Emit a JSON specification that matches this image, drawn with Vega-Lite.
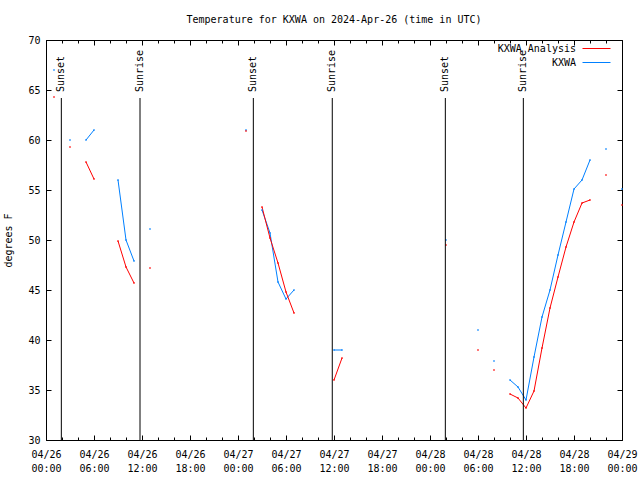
{
  "$schema": "https://vega.github.io/schema/vega-lite/v6.json",
  "width": 576,
  "height": 400,
  "autosize": "none",
  "padding": {"left": 46, "top": 40, "right": 18, "bottom": 40},
  "background": "white",
  "title": {"text": "Temperature for KXWA on 2024-Apr-26 (time in UTC)", "font": "DejaVu Sans Mono", "fontSize": 10, "fontWeight": "normal", "color": "black", "anchor": "middle", "frame": "group", "offset": 10},
  "config": {
    "view": {"stroke": "black", "strokeWidth": 1},
    "axis": {"grid": false, "domainColor": "black", "tickColor": "black", "labelColor": "black", "titleColor": "black", "labelFont": "DejaVu Sans Mono", "labelFontSize": 10, "titleFont": "DejaVu Sans Mono", "titleFontSize": 10, "titleFontWeight": "normal", "domain": false},
    "legend": {"labelFont": "DejaVu Sans Mono", "labelFontSize": 10, "labelColor": "black"}
  },
  "datasets": {
    "obs": [
      {"t": "2024-04-26T01:00:00Z", "s": "KXWA", "v": 67.0},
      {"t": "2024-04-26T02:00:00Z", "s": "KXWA", "v": null},
      {"t": "2024-04-26T03:00:00Z", "s": "KXWA", "v": 60.0},
      {"t": "2024-04-26T04:00:00Z", "s": "KXWA", "v": null},
      {"t": "2024-04-26T05:00:00Z", "s": "KXWA", "v": 60.0},
      {"t": "2024-04-26T06:00:00Z", "s": "KXWA", "v": 61.0},
      {"t": "2024-04-26T07:00:00Z", "s": "KXWA", "v": null},
      {"t": "2024-04-26T09:00:00Z", "s": "KXWA", "v": 56.0},
      {"t": "2024-04-26T10:00:00Z", "s": "KXWA", "v": 50.0},
      {"t": "2024-04-26T11:00:00Z", "s": "KXWA", "v": 47.9},
      {"t": "2024-04-26T12:00:00Z", "s": "KXWA", "v": null},
      {"t": "2024-04-26T13:00:00Z", "s": "KXWA", "v": 51.1},
      {"t": "2024-04-26T14:00:00Z", "s": "KXWA", "v": null},
      {"t": "2024-04-27T01:00:00Z", "s": "KXWA", "v": 61.0},
      {"t": "2024-04-27T02:00:00Z", "s": "KXWA", "v": null},
      {"t": "2024-04-27T03:00:00Z", "s": "KXWA", "v": 53.0},
      {"t": "2024-04-27T04:00:00Z", "s": "KXWA", "v": 50.7},
      {"t": "2024-04-27T05:00:00Z", "s": "KXWA", "v": 45.8},
      {"t": "2024-04-27T06:00:00Z", "s": "KXWA", "v": 44.1},
      {"t": "2024-04-27T07:00:00Z", "s": "KXWA", "v": 45.0},
      {"t": "2024-04-27T08:00:00Z", "s": "KXWA", "v": null},
      {"t": "2024-04-27T12:00:00Z", "s": "KXWA", "v": 39.0},
      {"t": "2024-04-27T13:00:00Z", "s": "KXWA", "v": 39.0},
      {"t": "2024-04-27T14:00:00Z", "s": "KXWA", "v": null},
      {"t": "2024-04-28T02:00:00Z", "s": "KXWA", "v": 50.0},
      {"t": "2024-04-28T03:00:00Z", "s": "KXWA", "v": null},
      {"t": "2024-04-28T06:00:00Z", "s": "KXWA", "v": 41.0},
      {"t": "2024-04-28T07:00:00Z", "s": "KXWA", "v": null},
      {"t": "2024-04-28T08:00:00Z", "s": "KXWA", "v": 37.9},
      {"t": "2024-04-28T09:00:00Z", "s": "KXWA", "v": null},
      {"t": "2024-04-28T10:00:00Z", "s": "KXWA", "v": 36.0},
      {"t": "2024-04-28T11:00:00Z", "s": "KXWA", "v": 35.3},
      {"t": "2024-04-28T12:00:00Z", "s": "KXWA", "v": 34.0},
      {"t": "2024-04-28T13:00:00Z", "s": "KXWA", "v": 38.3},
      {"t": "2024-04-28T14:00:00Z", "s": "KXWA", "v": 42.3},
      {"t": "2024-04-28T15:00:00Z", "s": "KXWA", "v": 45.0},
      {"t": "2024-04-28T16:00:00Z", "s": "KXWA", "v": 48.5},
      {"t": "2024-04-28T17:00:00Z", "s": "KXWA", "v": 51.8},
      {"t": "2024-04-28T18:00:00Z", "s": "KXWA", "v": 55.1},
      {"t": "2024-04-28T19:00:00Z", "s": "KXWA", "v": 56.0},
      {"t": "2024-04-28T20:00:00Z", "s": "KXWA", "v": 58.0},
      {"t": "2024-04-28T21:00:00Z", "s": "KXWA", "v": null},
      {"t": "2024-04-28T22:00:00Z", "s": "KXWA", "v": 59.1},
      {"t": "2024-04-28T23:00:00Z", "s": "KXWA", "v": null},
      {"t": "2024-04-29T00:00:00Z", "s": "KXWA", "v": 55.1},
      {"t": "2024-04-26T01:00:00Z", "s": "KXWA Analysis", "v": 64.3},
      {"t": "2024-04-26T02:00:00Z", "s": "KXWA Analysis", "v": null},
      {"t": "2024-04-26T03:00:00Z", "s": "KXWA Analysis", "v": 59.3},
      {"t": "2024-04-26T04:00:00Z", "s": "KXWA Analysis", "v": null},
      {"t": "2024-04-26T05:00:00Z", "s": "KXWA Analysis", "v": 57.8},
      {"t": "2024-04-26T06:00:00Z", "s": "KXWA Analysis", "v": 56.1},
      {"t": "2024-04-26T07:00:00Z", "s": "KXWA Analysis", "v": null},
      {"t": "2024-04-26T09:00:00Z", "s": "KXWA Analysis", "v": 49.9},
      {"t": "2024-04-26T10:00:00Z", "s": "KXWA Analysis", "v": 47.3},
      {"t": "2024-04-26T11:00:00Z", "s": "KXWA Analysis", "v": 45.7},
      {"t": "2024-04-26T12:00:00Z", "s": "KXWA Analysis", "v": null},
      {"t": "2024-04-26T13:00:00Z", "s": "KXWA Analysis", "v": 47.2},
      {"t": "2024-04-26T14:00:00Z", "s": "KXWA Analysis", "v": null},
      {"t": "2024-04-27T01:00:00Z", "s": "KXWA Analysis", "v": 60.9},
      {"t": "2024-04-27T02:00:00Z", "s": "KXWA Analysis", "v": null},
      {"t": "2024-04-27T03:00:00Z", "s": "KXWA Analysis", "v": 53.3},
      {"t": "2024-04-27T04:00:00Z", "s": "KXWA Analysis", "v": 50.2},
      {"t": "2024-04-27T05:00:00Z", "s": "KXWA Analysis", "v": 47.7},
      {"t": "2024-04-27T06:00:00Z", "s": "KXWA Analysis", "v": 44.8},
      {"t": "2024-04-27T07:00:00Z", "s": "KXWA Analysis", "v": 42.7},
      {"t": "2024-04-27T08:00:00Z", "s": "KXWA Analysis", "v": null},
      {"t": "2024-04-27T12:00:00Z", "s": "KXWA Analysis", "v": 36.0},
      {"t": "2024-04-27T13:00:00Z", "s": "KXWA Analysis", "v": 38.2},
      {"t": "2024-04-27T14:00:00Z", "s": "KXWA Analysis", "v": null},
      {"t": "2024-04-28T02:00:00Z", "s": "KXWA Analysis", "v": 49.5},
      {"t": "2024-04-28T03:00:00Z", "s": "KXWA Analysis", "v": null},
      {"t": "2024-04-28T06:00:00Z", "s": "KXWA Analysis", "v": 39.0},
      {"t": "2024-04-28T07:00:00Z", "s": "KXWA Analysis", "v": null},
      {"t": "2024-04-28T08:00:00Z", "s": "KXWA Analysis", "v": 37.0},
      {"t": "2024-04-28T09:00:00Z", "s": "KXWA Analysis", "v": null},
      {"t": "2024-04-28T10:00:00Z", "s": "KXWA Analysis", "v": 34.6},
      {"t": "2024-04-28T11:00:00Z", "s": "KXWA Analysis", "v": 34.2},
      {"t": "2024-04-28T12:00:00Z", "s": "KXWA Analysis", "v": 33.2},
      {"t": "2024-04-28T13:00:00Z", "s": "KXWA Analysis", "v": 34.9},
      {"t": "2024-04-28T14:00:00Z", "s": "KXWA Analysis", "v": 39.2},
      {"t": "2024-04-28T15:00:00Z", "s": "KXWA Analysis", "v": 43.2},
      {"t": "2024-04-28T16:00:00Z", "s": "KXWA Analysis", "v": 46.3},
      {"t": "2024-04-28T17:00:00Z", "s": "KXWA Analysis", "v": 49.3},
      {"t": "2024-04-28T18:00:00Z", "s": "KXWA Analysis", "v": 51.8},
      {"t": "2024-04-28T19:00:00Z", "s": "KXWA Analysis", "v": 53.7},
      {"t": "2024-04-28T20:00:00Z", "s": "KXWA Analysis", "v": 54.0},
      {"t": "2024-04-28T21:00:00Z", "s": "KXWA Analysis", "v": null},
      {"t": "2024-04-28T22:00:00Z", "s": "KXWA Analysis", "v": 56.5},
      {"t": "2024-04-28T23:00:00Z", "s": "KXWA Analysis", "v": null},
      {"t": "2024-04-29T00:00:00Z", "s": "KXWA Analysis", "v": 53.5}
    ],
    "sun": [
      {"t": "2024-04-26T01:55:00Z", "e": "Sunset"},
      {"t": "2024-04-26T11:45:00Z", "e": "Sunrise"},
      {"t": "2024-04-27T01:55:00Z", "e": "Sunset"},
      {"t": "2024-04-27T11:47:00Z", "e": "Sunrise"},
      {"t": "2024-04-28T01:55:00Z", "e": "Sunset"},
      {"t": "2024-04-28T11:40:00Z", "e": "Sunrise"}
    ]
  },
  "layer": [
    {
      "data": {"name": "obs"},
      "mark": {"type": "line", "strokeWidth": 1, "interpolate": "linear"},
      "encoding": {
        "x": {"field": "t", "type": "temporal", "scale": {"type": "utc", "domain": ["2024-04-26T00:00:00Z", "2024-04-29T00:00:00Z"], "nice": false},
              "axis": {"orient": "bottom", "title": null, "tickSize": -5, "labelPadding": 14, "labelLineHeight": 14, "labelOverlap": false, "labelFlush": false, "labelAlign": "center",
                       "values": [
                         {"year": 2024, "month": 4, "date": 26, "hours": 0, "utc": true},
                         {"year": 2024, "month": 4, "date": 26, "hours": 6, "utc": true},
                         {"year": 2024, "month": 4, "date": 26, "hours": 12, "utc": true},
                         {"year": 2024, "month": 4, "date": 26, "hours": 18, "utc": true},
                         {"year": 2024, "month": 4, "date": 27, "hours": 0, "utc": true},
                         {"year": 2024, "month": 4, "date": 27, "hours": 6, "utc": true},
                         {"year": 2024, "month": 4, "date": 27, "hours": 12, "utc": true},
                         {"year": 2024, "month": 4, "date": 27, "hours": 18, "utc": true},
                         {"year": 2024, "month": 4, "date": 28, "hours": 0, "utc": true},
                         {"year": 2024, "month": 4, "date": 28, "hours": 6, "utc": true},
                         {"year": 2024, "month": 4, "date": 28, "hours": 12, "utc": true},
                         {"year": 2024, "month": 4, "date": 28, "hours": 18, "utc": true},
                         {"year": 2024, "month": 4, "date": 29, "hours": 0, "utc": true}
                       ],
                       "labelExpr": "[utcFormat(datum.value, '%m/%d'), utcFormat(datum.value, '%H:%M')]"}},
        "y": {"field": "v", "type": "quantitative", "scale": {"domain": [30, 70], "nice": false, "zero": false},
              "axis": {"orient": "left", "title": "degrees F", "tickSize": -5, "labelPadding": 11, "values": [30, 35, 40, 45, 50, 55, 60, 65, 70], "titlePadding": 14}},
        "color": {"field": "s", "type": "nominal", "scale": {"domain": ["KXWA Analysis", "KXWA"], "range": ["#ff0000", "#0080ff"]},
                  "legend": {"title": null, "orient": "none", "legendX": 543, "legendY": 1, "symbolType": "M-2,0H2", "symbolSize": 196, "symbolStrokeWidth": 1, "labelAlign": "right", "labelOffset": -28, "rowPadding": 1, "padding": 0}}
      }
    },
    {
      "data": {"name": "obs"},
      "transform": [{"filter": "isValid(datum.v)"}],
      "mark": {"type": "square", "size": 2, "filled": true, "opacity": 1},
      "encoding": {
        "x": {"field": "t", "type": "temporal", "scale": {"type": "utc", "domain": ["2024-04-26T00:00:00Z", "2024-04-29T00:00:00Z"], "nice": false},
              "axis": {"orient": "bottom", "labels": false, "title": null, "tickSize": -3,
                       "values": [
                         {"year": 2024, "month": 4, "date": 26, "hours": 0, "utc": true},
                         {"year": 2024, "month": 4, "date": 26, "hours": 2, "utc": true},
                         {"year": 2024, "month": 4, "date": 26, "hours": 4, "utc": true},
                         {"year": 2024, "month": 4, "date": 26, "hours": 6, "utc": true},
                         {"year": 2024, "month": 4, "date": 26, "hours": 8, "utc": true},
                         {"year": 2024, "month": 4, "date": 26, "hours": 10, "utc": true},
                         {"year": 2024, "month": 4, "date": 26, "hours": 12, "utc": true},
                         {"year": 2024, "month": 4, "date": 26, "hours": 14, "utc": true},
                         {"year": 2024, "month": 4, "date": 26, "hours": 16, "utc": true},
                         {"year": 2024, "month": 4, "date": 26, "hours": 18, "utc": true},
                         {"year": 2024, "month": 4, "date": 26, "hours": 20, "utc": true},
                         {"year": 2024, "month": 4, "date": 26, "hours": 22, "utc": true},
                         {"year": 2024, "month": 4, "date": 27, "hours": 0, "utc": true},
                         {"year": 2024, "month": 4, "date": 27, "hours": 2, "utc": true},
                         {"year": 2024, "month": 4, "date": 27, "hours": 4, "utc": true},
                         {"year": 2024, "month": 4, "date": 27, "hours": 6, "utc": true},
                         {"year": 2024, "month": 4, "date": 27, "hours": 8, "utc": true},
                         {"year": 2024, "month": 4, "date": 27, "hours": 10, "utc": true},
                         {"year": 2024, "month": 4, "date": 27, "hours": 12, "utc": true},
                         {"year": 2024, "month": 4, "date": 27, "hours": 14, "utc": true},
                         {"year": 2024, "month": 4, "date": 27, "hours": 16, "utc": true},
                         {"year": 2024, "month": 4, "date": 27, "hours": 18, "utc": true},
                         {"year": 2024, "month": 4, "date": 27, "hours": 20, "utc": true},
                         {"year": 2024, "month": 4, "date": 27, "hours": 22, "utc": true},
                         {"year": 2024, "month": 4, "date": 28, "hours": 0, "utc": true},
                         {"year": 2024, "month": 4, "date": 28, "hours": 2, "utc": true},
                         {"year": 2024, "month": 4, "date": 28, "hours": 4, "utc": true},
                         {"year": 2024, "month": 4, "date": 28, "hours": 6, "utc": true},
                         {"year": 2024, "month": 4, "date": 28, "hours": 8, "utc": true},
                         {"year": 2024, "month": 4, "date": 28, "hours": 10, "utc": true},
                         {"year": 2024, "month": 4, "date": 28, "hours": 12, "utc": true},
                         {"year": 2024, "month": 4, "date": 28, "hours": 14, "utc": true},
                         {"year": 2024, "month": 4, "date": 28, "hours": 16, "utc": true},
                         {"year": 2024, "month": 4, "date": 28, "hours": 18, "utc": true},
                         {"year": 2024, "month": 4, "date": 28, "hours": 20, "utc": true},
                         {"year": 2024, "month": 4, "date": 28, "hours": 22, "utc": true},
                         {"year": 2024, "month": 4, "date": 29, "hours": 0, "utc": true}
                       ]}},
        "y": {"field": "v", "type": "quantitative", "scale": {"domain": [30, 70], "nice": false, "zero": false},
              "axis": {"orient": "right", "labels": false, "title": null, "tickSize": -5, "values": [30, 35, 40, 45, 50, 55, 60, 65, 70]}},
        "color": {"field": "s", "type": "nominal", "legend": null}
      }
    },
    {
      "data": {"name": "sun"},
      "mark": {"type": "rule", "color": "black", "strokeWidth": 1},
      "encoding": {
        "x": {"field": "t", "type": "temporal", "scale": {"type": "utc", "domain": ["2024-04-26T00:00:00Z", "2024-04-29T00:00:00Z"], "nice": false},
              "axis": {"orient": "top", "labels": false, "title": null, "tickSize": -5,
                       "values": [
                         {"year": 2024, "month": 4, "date": 26, "hours": 0, "utc": true},
                         {"year": 2024, "month": 4, "date": 26, "hours": 6, "utc": true},
                         {"year": 2024, "month": 4, "date": 26, "hours": 12, "utc": true},
                         {"year": 2024, "month": 4, "date": 26, "hours": 18, "utc": true},
                         {"year": 2024, "month": 4, "date": 27, "hours": 0, "utc": true},
                         {"year": 2024, "month": 4, "date": 27, "hours": 6, "utc": true},
                         {"year": 2024, "month": 4, "date": 27, "hours": 12, "utc": true},
                         {"year": 2024, "month": 4, "date": 27, "hours": 18, "utc": true},
                         {"year": 2024, "month": 4, "date": 28, "hours": 0, "utc": true},
                         {"year": 2024, "month": 4, "date": 28, "hours": 6, "utc": true},
                         {"year": 2024, "month": 4, "date": 28, "hours": 12, "utc": true},
                         {"year": 2024, "month": 4, "date": 28, "hours": 18, "utc": true},
                         {"year": 2024, "month": 4, "date": 29, "hours": 0, "utc": true}
                       ]}},
        "y": {"datum": 30, "type": "quantitative", "scale": {"domain": [30, 70], "nice": false, "zero": false}, "axis": null},
        "y2": {"datum": 64.2}
      }
    },
    {
      "data": {"name": "sun"},
      "mark": {"type": "text", "angle": 270, "align": "left", "baseline": "middle", "font": "DejaVu Sans Mono", "fontSize": 10, "color": "black"},
      "encoding": {
        "x": {"field": "t", "type": "temporal", "scale": {"type": "utc", "domain": ["2024-04-26T00:00:00Z", "2024-04-29T00:00:00Z"], "nice": false},
              "axis": {"orient": "top", "labels": false, "title": null, "tickSize": -3,
                       "values": [
                         {"year": 2024, "month": 4, "date": 26, "hours": 0, "utc": true},
                         {"year": 2024, "month": 4, "date": 26, "hours": 2, "utc": true},
                         {"year": 2024, "month": 4, "date": 26, "hours": 4, "utc": true},
                         {"year": 2024, "month": 4, "date": 26, "hours": 6, "utc": true},
                         {"year": 2024, "month": 4, "date": 26, "hours": 8, "utc": true},
                         {"year": 2024, "month": 4, "date": 26, "hours": 10, "utc": true},
                         {"year": 2024, "month": 4, "date": 26, "hours": 12, "utc": true},
                         {"year": 2024, "month": 4, "date": 26, "hours": 14, "utc": true},
                         {"year": 2024, "month": 4, "date": 26, "hours": 16, "utc": true},
                         {"year": 2024, "month": 4, "date": 26, "hours": 18, "utc": true},
                         {"year": 2024, "month": 4, "date": 26, "hours": 20, "utc": true},
                         {"year": 2024, "month": 4, "date": 26, "hours": 22, "utc": true},
                         {"year": 2024, "month": 4, "date": 27, "hours": 0, "utc": true},
                         {"year": 2024, "month": 4, "date": 27, "hours": 2, "utc": true},
                         {"year": 2024, "month": 4, "date": 27, "hours": 4, "utc": true},
                         {"year": 2024, "month": 4, "date": 27, "hours": 6, "utc": true},
                         {"year": 2024, "month": 4, "date": 27, "hours": 8, "utc": true},
                         {"year": 2024, "month": 4, "date": 27, "hours": 10, "utc": true},
                         {"year": 2024, "month": 4, "date": 27, "hours": 12, "utc": true},
                         {"year": 2024, "month": 4, "date": 27, "hours": 14, "utc": true},
                         {"year": 2024, "month": 4, "date": 27, "hours": 16, "utc": true},
                         {"year": 2024, "month": 4, "date": 27, "hours": 18, "utc": true},
                         {"year": 2024, "month": 4, "date": 27, "hours": 20, "utc": true},
                         {"year": 2024, "month": 4, "date": 27, "hours": 22, "utc": true},
                         {"year": 2024, "month": 4, "date": 28, "hours": 0, "utc": true},
                         {"year": 2024, "month": 4, "date": 28, "hours": 2, "utc": true},
                         {"year": 2024, "month": 4, "date": 28, "hours": 4, "utc": true},
                         {"year": 2024, "month": 4, "date": 28, "hours": 6, "utc": true},
                         {"year": 2024, "month": 4, "date": 28, "hours": 8, "utc": true},
                         {"year": 2024, "month": 4, "date": 28, "hours": 10, "utc": true},
                         {"year": 2024, "month": 4, "date": 28, "hours": 12, "utc": true},
                         {"year": 2024, "month": 4, "date": 28, "hours": 14, "utc": true},
                         {"year": 2024, "month": 4, "date": 28, "hours": 16, "utc": true},
                         {"year": 2024, "month": 4, "date": 28, "hours": 18, "utc": true},
                         {"year": 2024, "month": 4, "date": 28, "hours": 20, "utc": true},
                         {"year": 2024, "month": 4, "date": 28, "hours": 22, "utc": true},
                         {"year": 2024, "month": 4, "date": 29, "hours": 0, "utc": true}
                       ]}},
        "y": {"datum": 64.8, "type": "quantitative", "scale": {"domain": [30, 70], "nice": false, "zero": false}, "axis": null},
        "text": {"field": "e"}
      }
    }
  ],
  "resolve": {"axis": {"x": "independent", "y": "independent"}}
}
